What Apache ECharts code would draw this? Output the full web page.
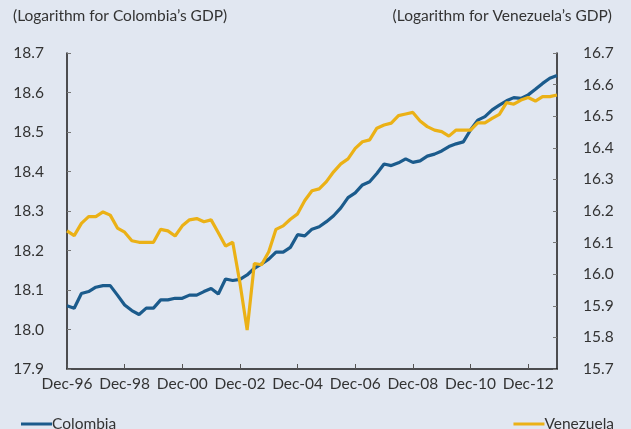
<!DOCTYPE html>
<html>
<head>
<meta charset="utf-8">
<script src="https://cdn.jsdelivr.net/npm/echarts@6/dist/echarts.min.js"></script>
<style>
  html, body { margin: 0; padding: 0; background: #e1e7f1; }
  #chart { width: 631px; height: 429px; }
</style>
</head>
<body>
<div id="chart"></div>
<script>
// quarterly, Dec-96 .. Dec-13
const quarters = [
  'Dec-96',
  'Mar-97','Jun-97','Sep-97','Dec-97',
  'Mar-98','Jun-98','Sep-98','Dec-98',
  'Mar-99','Jun-99','Sep-99','Dec-99',
  'Mar-00','Jun-00','Sep-00','Dec-00',
  'Mar-01','Jun-01','Sep-01','Dec-01',
  'Mar-02','Jun-02','Sep-02','Dec-02',
  'Mar-03','Jun-03','Sep-03','Dec-03',
  'Mar-04','Jun-04','Sep-04','Dec-04',
  'Mar-05','Jun-05','Sep-05','Dec-05',
  'Mar-06','Jun-06','Sep-06','Dec-06',
  'Mar-07','Jun-07','Sep-07','Dec-07',
  'Mar-08','Jun-08','Sep-08','Dec-08',
  'Mar-09','Jun-09','Sep-09','Dec-09',
  'Mar-10','Jun-10','Sep-10','Dec-10',
  'Mar-11','Jun-11','Sep-11','Dec-11',
  'Mar-12','Jun-12','Sep-12','Dec-12',
  'Mar-13','Jun-13','Sep-13','Dec-13'
];

// log of Colombia's GDP (left axis)
const colombia = [
  18.060,
  18.054, 18.091, 18.096, 18.107,
  18.111, 18.111, 18.087, 18.062,
  18.048, 18.038, 18.054, 18.054,
  18.075, 18.075, 18.079, 18.079,
  18.087, 18.087, 18.096, 18.104,
  18.090, 18.128, 18.124, 18.127,
  18.138, 18.155, 18.166, 18.178,
  18.196, 18.196, 18.208, 18.240,
  18.237, 18.254, 18.260, 18.273,
  18.288, 18.308, 18.334, 18.346,
  18.366, 18.374, 18.395, 18.419,
  18.415, 18.422, 18.432, 18.423,
  18.427, 18.439, 18.444, 18.452,
  18.463, 18.470, 18.475, 18.505,
  18.530, 18.539, 18.556, 18.568,
  18.579, 18.587, 18.585, 18.594,
  18.608, 18.623, 18.636, 18.643
];

// log of Venezuela's GDP (right axis)
const venezuela = [
  16.137,
  16.122, 16.161, 16.182, 16.182,
  16.197, 16.187, 16.146, 16.133,
  16.106, 16.101, 16.101, 16.101,
  16.142, 16.137, 16.121, 16.153,
  16.172, 16.176, 16.166, 16.172,
  16.131, 16.089, 16.101, 15.972,
  15.823, 16.034, 16.030, 16.071,
  16.142, 16.153, 16.174, 16.191,
  16.233, 16.264, 16.270, 16.293,
  16.324, 16.349, 16.365, 16.398,
  16.419, 16.425, 16.462, 16.472,
  16.478, 16.502, 16.507, 16.512,
  16.485, 16.467, 16.456, 16.451,
  16.437, 16.456, 16.456, 16.456,
  16.479, 16.479, 16.493, 16.506,
  16.543, 16.538, 16.551, 16.559,
  16.548, 16.562, 16.562, 16.567
];

const leftTitle = '(Logarithm for Colombia’s GDP)';
const rightTitle = '(Logarithm for Venezuela’s GDP)';

const FONT = 'Lato';
const TXT = '#333333';
const FS = 15.5;

const myChart = echarts.init(document.getElementById('chart'));
myChart.setOption({
  backgroundColor: '#e1e7f1',
  animation: false,
  textStyle: { fontFamily: FONT },
  grid: { left: 67, right: 74, top: 53, bottom: 60 },
  graphic: [
    { type: 'text', left: 13, top: 8,
      style: { text: leftTitle, fill: TXT, font: FS + 'px ' + FONT } },
    { type: 'text', right: 19, top: 8,
      style: { text: rightTitle, fill: TXT, font: FS + 'px ' + FONT } }
  ],
  legend: [
    {
      left: 16, top: 411,
      data: ['Colombia'],
      icon: 'rect', itemWidth: 31, itemHeight: 3,
      textStyle: { color: TXT, fontSize: FS, padding: [0, 0, 0, -5] }
    },
    {
      right: 12, top: 411,
      data: ['Venezuela'],
      icon: 'rect', itemWidth: 31, itemHeight: 3,
      textStyle: { color: TXT, fontSize: FS, padding: [0, 0, 0, -5] }
    }
  ],
  xAxis: {
    type: 'category',
    data: quarters,
    boundaryGap: false,
    axisLine: { lineStyle: { color: '#1a1a1a', width: 1.5 } },
    axisTick: { inside: true, length: 5, interval: 7, lineStyle: { color: '#555' } },
    axisLabel: { interval: 7, color: TXT, fontSize: FS, margin: 7 }
  },
  yAxis: [
    {
      type: 'value',
      min: 17.9, max: 18.7, interval: 0.1,
      position: 'left',
      axisLine: { show: true, lineStyle: { color: '#1a1a1a', width: 1.5 } },
      axisTick: { show: true, inside: true, length: 4, lineStyle: { color: '#777' } },
      splitLine: { show: false },
      axisLabel: { color: TXT, fontSize: FS, margin: 23,
        formatter: v => v.toFixed(1) }
    },
    {
      type: 'value',
      min: 15.7, max: 16.7, interval: 0.1,
      position: 'right',
      axisLine: { show: true, lineStyle: { color: '#1a1a1a', width: 1.5 } },
      axisTick: { show: true, inside: true, length: 4, lineStyle: { color: '#777' } },
      splitLine: { show: false },
      axisLabel: { color: TXT, fontSize: FS, margin: 26,
        formatter: v => v.toFixed(1) }
    }
  ],
  series: [
    {
      name: 'Colombia',
      type: 'line',
      yAxisIndex: 0,
      data: colombia,
      showSymbol: false,
      color: '#1b5b8c',
      lineStyle: { width: 3.2, color: '#1b5b8c' }
    },
    {
      name: 'Venezuela',
      type: 'line',
      yAxisIndex: 1,
      data: venezuela,
      showSymbol: false,
      color: '#ebb116',
      lineStyle: { width: 3.2, color: '#ebb116' }
    }
  ]
});
</script>
</body>
</html>
